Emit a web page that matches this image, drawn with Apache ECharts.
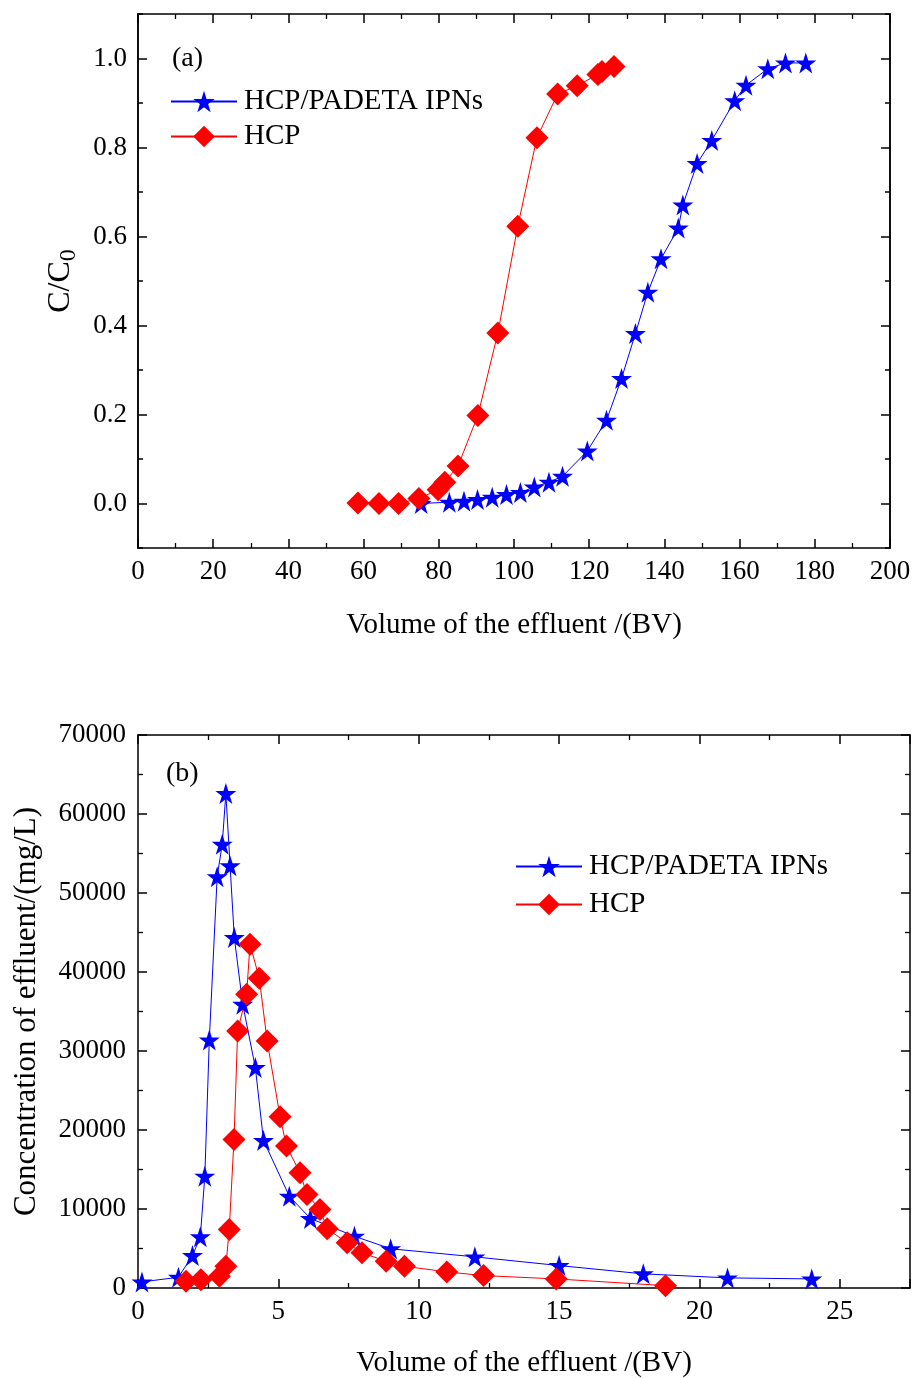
<!DOCTYPE html>
<html>
<head>
<meta charset="utf-8">
<script src="https://cdn.jsdelivr.net/npm/echarts@6/dist/echarts.min.js"></script>
<style>html,body{margin:0;padding:0;background:#fff}#c{width:915px;height:1378px}</style>
</head>
<body>
<div id="c"></div>
<script>
// Panel (a): breakthrough curves, C/C0 vs volume (BV)
const aIpnX = [75.3, 82.8, 86.7, 90.3, 94.2, 98.0, 101.7, 105.4, 109.3, 112.9, 119.5, 124.6, 128.6, 132.3, 135.6, 139.1, 143.7, 144.9, 148.7, 152.6, 158.7, 161.7, 167.5, 172.2, 177.6];
const aIpnY = [0.0, 0.003, 0.005, 0.009, 0.014, 0.02, 0.025, 0.037, 0.048, 0.061, 0.118, 0.187, 0.281, 0.382, 0.475, 0.55, 0.619, 0.671, 0.764, 0.816, 0.905, 0.94, 0.977, 0.99, 0.99];
const aHcpX = [58.5, 64.1, 69.3, 74.7, 79.8, 81.6, 85.1, 90.4, 95.7, 101.0, 106.1, 111.6, 116.8, 122.3, 123.4, 126.6];
const aHcpY = [0.001, 0.0, 0.0, 0.011, 0.031, 0.048, 0.084, 0.198, 0.383, 0.623, 0.822, 0.92, 0.939, 0.964, 0.971, 0.982];
// Panel (b): elution curves, concentration (mg/L) vs volume (BV)
const bIpnX = [0.14, 1.44, 1.94, 2.22, 2.38, 2.54, 2.82, 3.0, 3.13, 3.28, 3.43, 3.73, 4.18, 4.47, 5.39, 6.14, 7.71, 9.0, 12.0, 15.0, 18.0, 21.0, 24.0];
const bIpnY = [770, 1360, 4100, 6480, 14160, 31400, 52050, 56160, 62600, 53450, 44370, 35920, 27900, 18680, 11620, 8800, 6550, 4970, 3940, 2840, 1790, 1280, 1150];
const bHcpX = [1.71, 2.24, 2.9, 3.13, 3.25, 3.42, 3.55, 3.87, 3.99, 4.32, 4.6, 5.06, 5.29, 5.77, 6.02, 6.48, 6.74, 7.45, 7.98, 8.84, 9.49, 11.0, 12.31, 14.9, 18.79];
const bHcpY = [850, 1060, 1480, 2750, 7400, 18810, 32540, 37190, 43520, 39210, 31270, 21690, 17960, 14590, 11840, 9940, 7490, 5720, 4450, 3390, 2750, 2040, 1570, 1150, 300];

// Tick values of panel (a) y axis
const aYMajor = [0.0, 0.2, 0.4, 0.6, 0.8, 1.0];
const aYMinor = [-0.1, 0.1, 0.3, 0.5, 0.7, 0.9, 1.1];

const seriesNames = ['HCP/PADETA IPNs', 'HCP'];
const panelLabels = ['(a)', '(b)'];
const xTitle = 'Volume of the effluent /(BV)';
const yTitleB = 'Concentration of effluent/(mg/L)';

const zip = (xs, ys) => xs.map((x, i) => [x, ys[i]]);
const FONT = 'Liberation Serif';
const STAR = 'path://M50,0 L61.2,34.5 L97.6,34.5 L68.2,55.9 L79.4,90.5 L50,69.1 L20.6,90.5 L31.8,55.9 L2.4,34.5 L38.8,34.5 Z';
const BLACK = '#000';

function base(o) {
  return Object.assign({
    type: 'value',
    axisLine: { show: true, onZero: false, lineStyle: { color: BLACK, width: 1.5 } },
    axisTick: { show: true, inside: true, length: 9, lineStyle: { color: BLACK, width: 1.5 } },
    minorTick: { show: true, splitNumber: 2, length: 5, lineStyle: { color: BLACK, width: 1.3 } },
    axisLabel: { show: false, color: BLACK, fontFamily: FONT, fontSize: 27, margin: 11 },
    splitLine: { show: false },
    nameLocation: 'middle',
    nameTextStyle: { color: BLACK, fontFamily: FONT, fontSize: 29 }
  }, o);
}

const xAxes = [
  base({ gridIndex: 0, min: 0, max: 200, interval: 20, position: 'bottom', name: xTitle, nameGap: 63,
         axisLabel: { show: true, color: BLACK, fontFamily: FONT, fontSize: 27, margin: 10 } }),
  base({ gridIndex: 1, min: 0, max: 27.5, interval: 5, position: 'bottom', name: xTitle, nameGap: 61,
         axisLabel: { show: true, color: BLACK, fontFamily: FONT, fontSize: 27, margin: 10, showMaxLabel: false } }),
  base({ gridIndex: 0, min: 0, max: 200, interval: 20, position: 'top' }),
  base({ gridIndex: 1, min: 0, max: 27.5, interval: 5, position: 'top' })
];

function aY(pos, vals, len, labels, extra) {
  return base(Object.assign({
    gridIndex: 0, min: -0.1, max: 1.1, interval: 0.1, position: pos,
    axisLine: { show: true, onZero: false, lineStyle: { color: BLACK, width: 1.5 } },
    axisTick: { show: true, inside: true, length: len, customValues: vals, lineStyle: { color: BLACK, width: 1.5 } },
    minorTick: { show: false },
    axisLabel: labels ? { show: true, color: BLACK, fontFamily: FONT, fontSize: 27, margin: 11, customValues: aYMajor,
                          formatter: v => Number(v).toFixed(1) } : { show: false }
  }, extra || {}));
}

const yAxes = [
  aY('left', aYMajor, 9, true, {
    name: 'C/C{sub|0}', nameGap: 57,
    nameTextStyle: { color: BLACK, fontFamily: FONT, fontSize: 32,
      rich: { sub: { fontFamily: FONT, fontSize: 24, color: BLACK, padding: [16, 0, 0, 0] } } }
  }),
  base({ gridIndex: 1, min: 0, max: 70000, interval: 10000, position: 'left', name: yTitleB, nameGap: 96,
         nameTextStyle: { color: BLACK, fontFamily: FONT, fontSize: 31, padding: [0, 0, 0, 0] },
         axisLabel: { show: true, color: BLACK, fontFamily: FONT, fontSize: 27, margin: 12, formatter: v => String(v) } }),
  aY('left', aYMinor, 5, false),
  aY('right', aYMajor, 9, false),
  aY('right', aYMinor, 5, false),
  base({ gridIndex: 1, min: 0, max: 70000, interval: 10000, position: 'right' })
];

function lineSeries(name, xi, yi, xs, ys, sym, size, color) {
  return { name: name, type: 'line', xAxisIndex: xi, yAxisIndex: yi, data: zip(xs, ys),
    symbol: sym, symbolSize: size, itemStyle: { color: color }, lineStyle: { color: color, width: 1 } };
}

const option = {
  backgroundColor: '#fff',
  animation: false,
  title: [
    { text: panelLabels[0], left: 167, top: 40, textStyle: { fontFamily: FONT, fontSize: 28, fontWeight: 'normal', color: BLACK } },
    { text: panelLabels[1], left: 161, top: 755, textStyle: { fontFamily: FONT, fontSize: 28, fontWeight: 'normal', color: BLACK } }
  ],
  grid: [
    { left: 138, top: 14, width: 752, height: 534, outerBoundsMode: 'none', containLabel: false },
    { left: 138, top: 735, width: 772, height: 553, outerBoundsMode: 'none', containLabel: false }
  ],
  legend: [
    { data: seriesNames, left: 165, top: 82, orient: 'vertical', itemGap: 6, itemWidth: 66, itemHeight: 27,
      textStyle: { fontFamily: FONT, fontSize: 29, color: BLACK, padding: [0, 0, 0, 2] } },
    { data: seriesNames.map(n => n + ' '), left: 510, top: 847, orient: 'vertical', itemGap: 9, itemWidth: 66, itemHeight: 27,
      textStyle: { fontFamily: FONT, fontSize: 29, color: BLACK, padding: [0, 0, 0, 2] } }
  ],
  xAxis: xAxes,
  yAxis: yAxes,
  series: [
    lineSeries(seriesNames[0], 0, 0, aIpnX, aIpnY, STAR, 21, '#0000ff'),
    lineSeries(seriesNames[1], 0, 0, aHcpX, aHcpY, 'diamond', 23, '#ff0000'),
    lineSeries(seriesNames[0] + ' ', 1, 1, bIpnX, bIpnY, STAR, 21, '#0000ff'),
    lineSeries(seriesNames[1] + ' ', 1, 1, bHcpX, bHcpY, 'diamond', 23, '#ff0000')
  ]
};

const chart = echarts.init(document.getElementById('c'));
chart.setOption(option);
</script>
</body>
</html>
